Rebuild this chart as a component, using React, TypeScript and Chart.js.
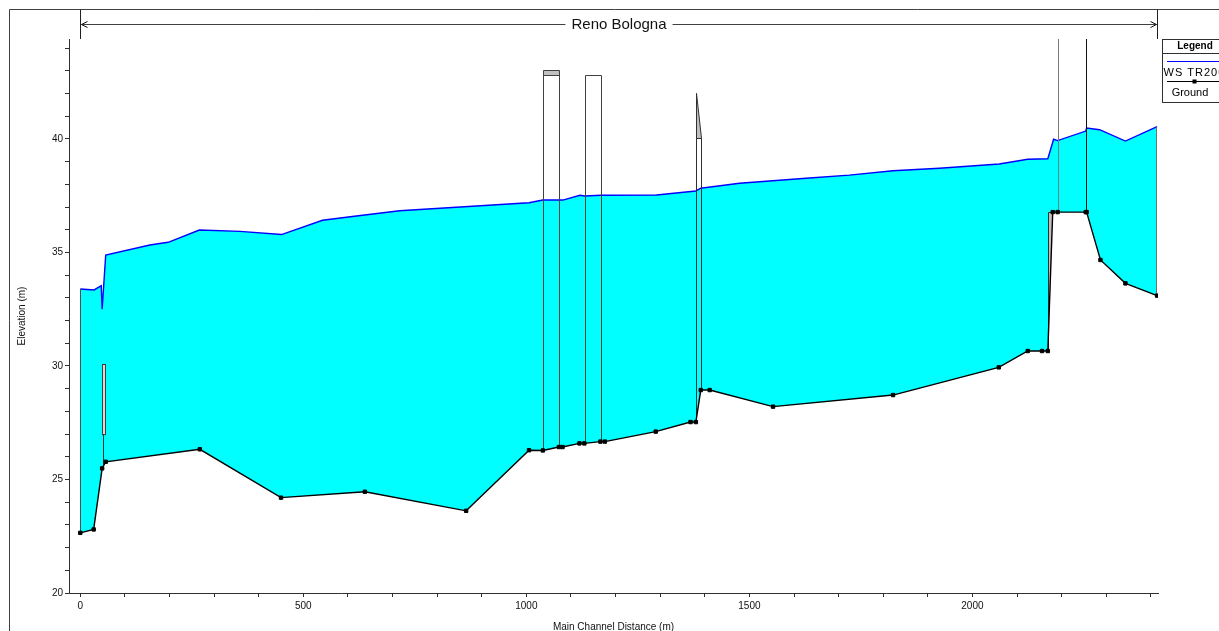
import React, { useEffect, useRef } from 'react';
import { Chart, registerables } from 'chart.js';

Chart.register(...registerables);

// ---- data ----
const riverTitle = 'Reno Bologna';
const wsLabel = 'WS TR200';
const groundLabel = 'Ground';
const xAxisTitle = 'Main Channel Distance (m)';
const yAxisTitle = 'Elevation (m)';

const groundDistance = [0, 30, 49, 57, 268, 450, 638, 865, 1006, 1037, 1073, 1081, 1119, 1130, 1166, 1176, 1290, 1368, 1380, 1391, 1411, 1553, 1822, 2059, 2124, 2156, 2169, 2180, 2191, 2254, 2256, 2287, 2343, 2414];
const groundElevation = [22.65, 22.8, 25.49, 25.78, 26.33, 24.2, 24.46, 23.62, 26.29, 26.28, 26.43, 26.43, 26.59, 26.59, 26.67, 26.67, 27.11, 27.53, 27.53, 28.94, 28.94, 28.21, 28.72, 29.94, 30.66, 30.66, 30.66, 36.78, 36.78, 36.78, 36.78, 34.67, 33.64, 33.1];

const wsDistance = [0, 31, 47, 49, 57, 156, 197, 267, 358, 451, 543, 619, 716, 1006, 1037, 1073, 1082, 1120, 1131, 1167, 1292, 1380, 1391, 1478, 1627, 1724, 1822, 1926, 2060, 2124, 2169, 2182, 2191, 2254, 2256, 2285, 2343, 2414];
const wsElevation = [33.39, 33.35, 33.54, 32.5, 34.89, 35.33, 35.45, 35.99, 35.93, 35.79, 36.42, 36.61, 36.84, 37.19, 37.31, 37.31, 37.31, 37.52, 37.49, 37.52, 37.53, 37.71, 37.83, 38.05, 38.27, 38.41, 38.6, 38.71, 38.9, 39.11, 39.13, 39.99, 39.93, 40.35, 40.48, 40.41, 39.91, 40.54];

const xTickValues = [0, 100, 200, 300, 400, 500, 600, 700, 800, 900, 1000, 1100, 1200, 1300, 1400, 1500, 1600, 1700, 1800, 1900, 2000, 2100, 2200, 2300, 2400];
const xTickLabels = [0, 500, 1000, 1500, 2000];
const yTickValues = [20, 21, 22, 23, 24, 25, 26, 27, 28, 29, 30, 31, 32, 33, 34, 35, 36, 37, 38, 39, 40, 41, 42, 43, 44];
const yTickLabels = [20, 25, 30, 35, 40];

// structures (stations in m, elevations in m)
const culvertStations = [49, 56];
const culvertPierStation = 50;
const culvertElevations = [27.0, 30.09];
const bridgeLeftStations = [1037, 1131];
const bridgeRightStations = [1073, 1167];
const bridgeTopElevations = [43.04, 42.83];
const bridgeDeckBottoms = [42.82, 42.83];
const weirStations = [1380, 1391];
const weirTopElevations = [42.01, 40.03];
const pierStations = [2191, 2254];
const pierTopElevation = 46;
const blockStations = [2169, 2180];
const blockElevations = [30.66, 36.78];

const FONT = 'Liberation Sans, Arial, sans-serif';

function interpAt(xs: number[], ys: number[], x: number): number {
  for (let i = 0; i < xs.length - 1; i++) {
    const x0 = xs[i], x1 = xs[i + 1];
    if (x >= x0 && x <= x1) {
      const t = x1 === x0 ? 0 : (x - x0) / (x1 - x0);
      return ys[i] + t * (ys[i + 1] - ys[i]);
    }
  }
  return x < xs[0] ? ys[0] : ys[ys.length - 1];
}

const structuresPlugin = {
  id: 'structures',
  afterDatasetDraw(chart: any, args: any) {
    if (args.index !== 1) return;
    const { ctx, chartArea } = chart;
    const xs = chart.scales.x;
    const ys = chart.scales.y;
    const X = (v: number) => xs.getPixelForValue(v);
    const Xs = (v: number) => Math.round(X(v)) + 0.5;
    const Y = (v: number) => ys.getPixelForValue(v);
    const G = (v: number) => interpAt(groundDistance, groundElevation, v);
    const W = (v: number) => interpAt(wsDistance, wsElevation, v);
    ctx.save();
    ctx.beginPath();
    ctx.rect(chartArea.left, chartArea.top, chartArea.right - chartArea.left, chartArea.bottom - chartArea.top);
    ctx.clip();
    ctx.lineWidth = 1;

    const vline = (x: number, y0: number, y1: number, color: string) => {
      ctx.strokeStyle = color;
      ctx.beginPath();
      ctx.moveTo(x, Y(y0));
      ctx.lineTo(x, Y(y1));
      ctx.stroke();
    };

    // left and right edges of water area
    const x0 = wsDistance[0];
    const xN = wsDistance[wsDistance.length - 1];
    vline(Xs(x0), G(x0), W(x0), '#505050');
    vline(Math.round(X(xN)) - 0.5, G(xN), W(xN), '#707070');

    // culvert
    {
      const l = Xs(culvertStations[0]);
      const r = Xs(culvertStations[1]);
      const t = Y(culvertElevations[1]);
      const b = Y(culvertElevations[0]);
      ctx.fillStyle = '#d8d8d8';
      ctx.fillRect(l, t, r - l, b - t);
      ctx.strokeStyle = '#404040';
      ctx.strokeRect(l, Math.round(t) + 0.5, r - l, b - t);
      vline(Xs(culvertPierStation), G(culvertPierStation), culvertElevations[0], '#303030');
    }

    // bridges
    for (let i = 0; i < bridgeLeftStations.length; i++) {
      const ls = bridgeLeftStations[i];
      const rs = bridgeRightStations[i];
      const l = Xs(ls);
      const r = Xs(rs);
      const top = Y(bridgeTopElevations[i]);
      const deck = Y(bridgeDeckBottoms[i]);
      if (deck - top > 0.5) {
        ctx.fillStyle = '#c0c0c0';
        ctx.fillRect(l, top, r - l, deck - top);
        ctx.strokeStyle = '#404040';
        ctx.beginPath();
        ctx.moveTo(l, Math.round(deck) + 0.5);
        ctx.lineTo(r, Math.round(deck) + 0.5);
        ctx.stroke();
      }
      ctx.strokeStyle = '#404040';
      ctx.beginPath();
      ctx.moveTo(l, Y(G(ls)));
      ctx.lineTo(l, Math.round(top) + 0.5);
      ctx.lineTo(r, Math.round(top) + 0.5);
      ctx.lineTo(r, Y(G(rs)));
      ctx.stroke();
    }

    // weir / gate
    {
      const ls = weirStations[0];
      const rs = weirStations[1];
      const l = Xs(ls);
      const r = Xs(rs);
      const tl = Y(weirTopElevations[0]);
      const tr = Y(weirTopElevations[1]);
      ctx.fillStyle = '#c0c0c0';
      ctx.beginPath();
      ctx.moveTo(l, tl);
      ctx.lineTo(r, tr);
      ctx.lineTo(l, tr);
      ctx.closePath();
      ctx.fill();
      ctx.strokeStyle = '#303030';
      ctx.beginPath();
      ctx.moveTo(l, Y(G(ls)));
      ctx.lineTo(l, tl);
      ctx.lineTo(r, tr);
      ctx.lineTo(r, Y(G(rs)));
      ctx.moveTo(l, Math.round(tr) + 0.5);
      ctx.lineTo(r, Math.round(tr) + 0.5);
      ctx.stroke();
    }

    // block (ineffective) triangle
    {
      const l = Xs(blockStations[0]);
      const r = X(blockStations[1]);
      const b = Y(blockElevations[0]);
      const t = Y(blockElevations[1]);
      ctx.fillStyle = '#c0c0c0';
      ctx.beginPath();
      ctx.moveTo(l, t);
      ctx.lineTo(r, t);
      ctx.lineTo(l, b);
      ctx.closePath();
      ctx.fill();
      ctx.strokeStyle = '#303030';
      ctx.beginPath();
      ctx.moveTo(l, b);
      ctx.lineTo(l, Math.round(t) + 0.5);
      ctx.lineTo(r, Math.round(t) + 0.5);
      ctx.stroke();
    }

    // piers
    vline(Xs(pierStations[0]), G(pierStations[0]), pierTopElevation, '#7a7a7a');
    vline(Xs(pierStations[1]), G(pierStations[1]), pierTopElevation, '#101010');

    ctx.restore();
  },
};

const decorPlugin = {
  id: 'decor',
  afterDraw(chart: any) {
    const { ctx } = chart;
    const xs = chart.scales.x;
    ctx.save();
    ctx.lineWidth = 1;
    ctx.strokeStyle = '#404040';
    // outer frame (top & left visible)
    ctx.beginPath();
    ctx.moveTo(9.5, 640);
    ctx.lineTo(9.5, 9.5);
    ctx.lineTo(1230, 9.5);
    ctx.stroke();

    // reach bracket with title
    const lx = Math.round(xs.getPixelForValue(wsDistance[0])) + 0.5;
    const rx = Math.round(xs.getPixelForValue(wsDistance[wsDistance.length - 1])) + 0.5;
    const yb = 24.5;
    ctx.strokeStyle = '#202020';
    ctx.beginPath();
    ctx.moveTo(lx, 9.5);
    ctx.lineTo(lx, 39);
    ctx.moveTo(rx, 9.5);
    ctx.lineTo(rx, 39);
    ctx.stroke();
    ctx.font = `15px ${FONT}`;
    const tw = ctx.measureText(riverTitle).width;
    const cx = (lx + rx) / 2;
    ctx.fillStyle = '#111';
    ctx.textAlign = 'center';
    ctx.textBaseline = 'middle';
    ctx.fillText(riverTitle, cx, 25);
    ctx.strokeStyle = '#404040';
    ctx.beginPath();
    ctx.moveTo(lx + 1, yb);
    ctx.lineTo(cx - tw / 2 - 6, yb);
    ctx.moveTo(cx + tw / 2 + 6, yb);
    ctx.lineTo(rx - 1, yb);
    ctx.stroke();
    ctx.strokeStyle = '#101010';
    ctx.beginPath();
    ctx.moveTo(lx + 7, yb - 3);
    ctx.lineTo(lx + 1, yb);
    ctx.lineTo(lx + 7, yb + 3);
    ctx.moveTo(rx - 7, yb - 3);
    ctx.lineTo(rx - 1, yb);
    ctx.lineTo(rx - 7, yb + 3);
    ctx.stroke();

    // legend box
    const bl = 1162.5;
    const bt = 39.5;
    ctx.fillStyle = '#ffffff';
    ctx.fillRect(bl, bt, 70, 63);
    ctx.strokeStyle = '#303030';
    ctx.strokeRect(bl, bt, 70, 63);
    ctx.beginPath();
    ctx.moveTo(bl, 53.5);
    ctx.lineTo(1232, 53.5);
    ctx.stroke();
    ctx.fillStyle = '#000';
    ctx.textAlign = 'center';
    ctx.font = `bold 10px ${FONT}`;
    ctx.fillText('Legend', 1195, 46.5);
    ctx.strokeStyle = '#0000ff';
    ctx.lineWidth = 1;
    ctx.beginPath();
    ctx.moveTo(1167, 61.5);
    ctx.lineTo(1232, 61.5);
    ctx.stroke();
    ctx.font = `11px ${FONT}`;
    ctx.textAlign = 'left';
    try {
      (ctx as any).letterSpacing = '1px';
    } catch (e) {
      /* ignore */
    }
    ctx.fillText(wsLabel, 1163.5, 72.5);
    try {
      (ctx as any).letterSpacing = '0px';
    } catch (e) {
      /* ignore */
    }
    ctx.strokeStyle = '#000';
    ctx.beginPath();
    ctx.moveTo(1167, 81.5);
    ctx.lineTo(1232, 81.5);
    ctx.stroke();
    ctx.fillRect(1192.5, 79.5, 4, 4);
    ctx.textAlign = 'center';
    ctx.fillText(groundLabel, 1190, 92.5);
    ctx.restore();
  },
};

export default function App() {
  const canvasRef = useRef<HTMLCanvasElement | null>(null);

  useEffect(() => {
    const canvas = canvasRef.current;
    if (!canvas) return;
    const tickFont = { family: FONT, size: 10 };
    const chart = new Chart(canvas, {
      type: 'line',
      data: {
        datasets: [
          {
            label: groundLabel,
            data: groundDistance.map((x, i) => ({ x, y: groundElevation[i] })),
            borderColor: '#000000',
            backgroundColor: '#000000',
            borderWidth: 1.4,
            pointStyle: 'rect',
            pointRadius: 2.4,
            pointBorderWidth: 1,
            pointBackgroundColor: '#000000',
            pointBorderColor: '#000000',
            tension: 0,
            fill: false,
          },
          {
            label: wsLabel,
            data: wsDistance.map((x, i) => ({ x, y: wsElevation[i] })),
            borderColor: '#0000ff',
            backgroundColor: '#00ffff',
            borderWidth: 1.4,
            pointRadius: 0,
            tension: 0,
            fill: '-1',
          },
        ],
      },
      options: {
        responsive: false,
        animation: false,
        events: [],
        layout: { padding: { left: 0, top: 39, right: 61, bottom: 0 }, autoPadding: false },
        plugins: {
          legend: { display: false },
          tooltip: { enabled: false },
          title: { display: false },
        },
        scales: {
          x: {
            type: 'linear',
            min: -25.3,
            max: 2416,
            afterBuildTicks: (s: any) => {
              s.ticks = xTickValues.map((v) => ({ value: v }));
            },
            afterFit: (s: any) => {
              s.height = 38;
            },
            ticks: {
              autoSkip: false,
              maxRotation: 0,
              padding: 3,
              color: '#111',
              font: tickFont,
              callback: (v: any) => (xTickLabels.includes(Number(v)) ? String(v) : ''),
            },
            grid: { drawOnChartArea: false, drawTicks: true, tickLength: 4, color: '#303030' },
            border: { display: true, color: '#303030', width: 1 },
            title: {
              display: true,
              text: xAxisTitle,
              color: '#111',
              font: { family: FONT, size: 10, lineHeight: 0.8 },
              padding: { top: 0, bottom: 0 },
            },
          },
          y: {
            type: 'linear',
            min: 20,
            max: 44.405,
            afterBuildTicks: (s: any) => {
              s.ticks = yTickValues.map((v) => ({ value: v }));
            },
            afterFit: (s: any) => {
              s.width = 69;
            },
            ticks: {
              autoSkip: false,
              padding: 2,
              color: '#111',
              font: tickFont,
              callback: (v: any) => (yTickLabels.includes(Number(v)) ? String(v) : ''),
            },
            grid: { drawOnChartArea: false, drawTicks: true, tickLength: 4, color: '#303030' },
            border: { display: true, color: '#303030', width: 1 },
            title: {
              display: true,
              text: yAxisTitle,
              color: '#111',
              font: { family: FONT, size: 10 },
              padding: { top: 16, bottom: 0 },
            },
          },
        },
      } as any,
      plugins: [structuresPlugin, decorPlugin],
    });
    return () => chart.destroy();
  }, []);

  return (
    <div style={{ position: 'absolute', left: 0, top: 0, width: 1219, height: 631, overflow: 'hidden', background: '#fff' }}>
      <canvas ref={canvasRef} width={1219} height={631} />
    </div>
  );
}
